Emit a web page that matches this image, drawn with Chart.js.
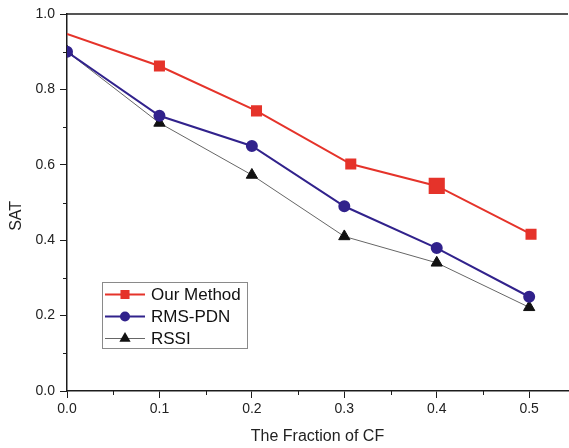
<!DOCTYPE html>
<html lang="en">
<head>
    <meta charset="UTF-8">
    <title>SAT vs Fraction of CF</title>
    <script src="https://cdn.jsdelivr.net/npm/chart.js"></script>
    <style>
        html, body { margin: 0; padding: 0; background: #fff; }
        #wrap { width: 569px; height: 448px; }
    </style>
</head>
<body>
    <div id="wrap"><canvas id="sat-chart"></canvas></div>

    <script>
        // values
        const seriesNames = ['Our Method', 'RMS-PDN', 'RSSI'];
        const ourX = [0, 0.1, 0.205, 0.307, 0.4, 0.502];
        const ourY = [0.947, 0.862, 0.743, 0.602, 0.544, 0.416];
        const cfX = [0, 0.1, 0.2, 0.3, 0.4, 0.5];
        const rmsY = [0.9, 0.73, 0.65, 0.49, 0.379, 0.25];
        const rssiY = [0.9, 0.711, 0.573, 0.41, 0.34, 0.222];

        const FONT = '"Liberation Sans", Arial, sans-serif';
        const AXIS = '#1c1c1c';

        function pts(xs, ys) {
            return xs.map((x, i) => ({ x: x, y: ys[i] }));
        }

        function isMajorX(v) { return Math.round(v * 100) % 10 === 0; }
        function isMajorY(v) { return Math.round(v * 10) % 2 === 0; }

        // top frame line, minor ticks and the boxed legend
        const extras = {
            id: 'extras',
            afterDraw(chart) {
                const ctx = chart.ctx;
                const area = chart.chartArea;
                const xs = chart.scales.x, ys = chart.scales.y;
                ctx.save();
                ctx.strokeStyle = AXIS;
                ctx.lineWidth = 1.5;
                ctx.beginPath();
                ctx.moveTo(area.left, area.top);
                ctx.lineTo(area.right, area.top);
                ctx.stroke();

                ctx.lineWidth = 1;
                ctx.beginPath();
                xs.ticks.forEach(t => {
                    if (isMajorX(t.value)) return;
                    const px = Math.round(xs.getPixelForValue(t.value)) + 0.5;
                    ctx.moveTo(px, area.bottom);
                    ctx.lineTo(px, area.bottom + 4);
                });
                ys.ticks.forEach(t => {
                    if (isMajorY(t.value)) return;
                    const py = Math.round(ys.getPixelForValue(t.value)) + 0.5;
                    ctx.moveTo(area.left, py);
                    ctx.lineTo(area.left - 4, py);
                });
                ctx.stroke();

                // legend
                const lx = area.left + 35, ly = area.top + 268;
                ctx.fillStyle = '#fff';
                ctx.fillRect(lx, ly, 145, 66);
                ctx.strokeStyle = '#8a8a8a';
                ctx.lineWidth = 1;
                ctx.strokeRect(lx + 0.5, ly + 0.5, 145, 66);
                ctx.font = '17px ' + FONT;
                ctx.textBaseline = 'middle';
                chart.data.datasets.forEach((ds, i) => {
                    const y = ly + 12.5 + i * 22;
                    ctx.strokeStyle = ds.borderColor;
                    ctx.lineWidth = ds.borderWidth;
                    ctx.beginPath();
                    ctx.moveTo(lx + 3, y);
                    ctx.lineTo(lx + 43, y);
                    ctx.stroke();
                    ctx.fillStyle = ds.pointBackgroundColor;
                    ctx.beginPath();
                    const r = ds.legendRadius;
                    if (ds.pointStyle === 'rect') {
                        const s = Math.SQRT1_2 * r;
                        ctx.rect(lx + 23 - s, y - s, 2 * s, 2 * s);
                    } else if (ds.pointStyle === 'circle') {
                        ctx.arc(lx + 23, y, r, 0, Math.PI * 2);
                    } else {
                        ctx.moveTo(lx + 23, y - r);
                        ctx.lineTo(lx + 23 + r * 0.866, y + r * 0.5);
                        ctx.lineTo(lx + 23 - r * 0.866, y + r * 0.5);
                        ctx.closePath();
                    }
                    ctx.fill();
                    ctx.fillStyle = '#111';
                    ctx.fillText(ds.label, lx + 49, y + 1);
                });
                ctx.restore();
            }
        };

        const ctx = document.getElementById('sat-chart').getContext('2d');
        new Chart(ctx, {
            type: 'line',
            data: {
                datasets: [{
                    label: seriesNames[0],
                    data: pts(ourX, ourY),
                    borderColor: '#e5332a',
                    backgroundColor: '#e5332a',
                    pointBackgroundColor: '#e5332a',
                    pointBorderColor: '#e5332a',
                    borderWidth: 2,
                    pointStyle: 'rect',
                    pointRadius: [0, 6.4, 6.4, 6.4, 10, 6.4],
                    legendRadius: 6.4,
                    clip: 0
                }, {
                    label: seriesNames[1],
                    data: pts(cfX, rmsY),
                    borderColor: '#31228c',
                    backgroundColor: '#31228c',
                    pointBackgroundColor: '#31228c',
                    pointBorderColor: '#31228c',
                    borderWidth: 2,
                    pointStyle: 'circle',
                    pointRadius: 5,
                    legendRadius: 5,
                    clip: 0
                }, {
                    label: seriesNames[2],
                    data: pts(cfX, rssiY),
                    borderColor: '#666666',
                    backgroundColor: '#111111',
                    pointBackgroundColor: '#111111',
                    pointBorderColor: '#111111',
                    borderWidth: 1,
                    pointStyle: 'triangle',
                    pointRadius: 6.5,
                    legendRadius: 6.5,
                    clip: 0
                }]
            },
            options: {
                responsive: true,
                maintainAspectRatio: false,
                animation: false,
                layout: { autoPadding: false, padding: { left: 0, top: 14, right: 1, bottom: 0 } },
                plugins: {
                    legend: { display: false },
                    tooltip: { enabled: false }
                },
                scales: {
                    x: {
                        type: 'linear',
                        min: 0,
                        max: 0.542,
                        afterFit: s => { s.height = 57; s.paddingLeft = 0; s.paddingRight = 0; },
                        ticks: {
                            stepSize: 0.05,
                            includeBounds: false,
                            autoSkip: false,
                            maxRotation: 0,
                            padding: 3,
                            color: '#222',
                            font: { family: FONT, size: 14 },
                            callback: v => isMajorX(v) ? v.toFixed(1) : ''
                        },
                        grid: {
                            drawOnChartArea: false,
                            drawTicks: true,
                            tickLength: 7,
                            tickWidth: 1,
                            tickColor: c => (c.tick && isMajorX(c.tick.value)) ? AXIS : 'rgba(0,0,0,0)'
                        },
                        border: { display: true, color: AXIS, width: 1.5 },
                        title: {
                            display: true,
                            text: 'The Fraction of CF',
                            color: '#222',
                            font: { family: FONT, size: 16 },
                            padding: { top: 0, bottom: 2 }
                        }
                    },
                    y: {
                        min: 0,
                        max: 1,
                        afterFit: s => { s.width = 67; s.paddingTop = 0; s.paddingBottom = 0; },
                        ticks: {
                            stepSize: 0.1,
                            autoSkip: false,
                            padding: 5,
                            color: '#222',
                            font: { family: FONT, size: 14 },
                            callback: v => isMajorY(v) ? v.toFixed(1) : ''
                        },
                        grid: {
                            drawOnChartArea: false,
                            drawTicks: true,
                            tickLength: 7,
                            tickWidth: 1,
                            tickColor: c => (c.tick && isMajorY(c.tick.value)) ? AXIS : 'rgba(0,0,0,0)'
                        },
                        border: { display: true, color: AXIS, width: 1.5 },
                        title: {
                            display: true,
                            text: 'SAT      ',
                            color: '#222',
                            font: { family: FONT, size: 16 },
                            padding: { top: 7, bottom: 0 }
                        }
                    }
                }
            },
            plugins: [extras]
        });
    </script>
</body>
</html>
